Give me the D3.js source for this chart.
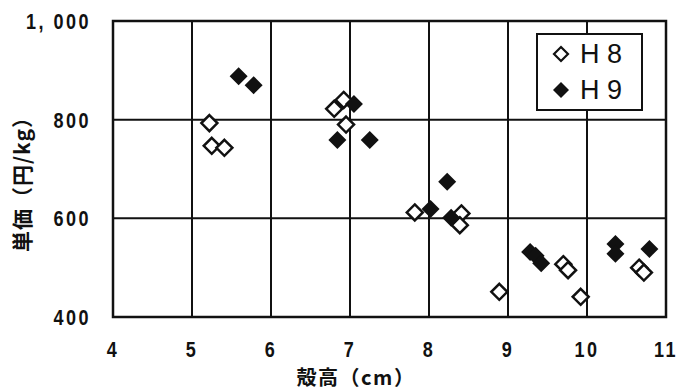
<!DOCTYPE html>
<html>
<head>
<meta charset="utf-8">
<script src="https://cdn.jsdelivr.net/npm/d3@7"></script>
<style>
  html, body { margin: 0; padding: 0; background: #fff; }
  svg { display: block; }
  .tick-label { font-family: "Liberation Sans", Arial, sans-serif; font-weight: bold; fill: #111; }
  .axis-title { font-family: "Noto Sans CJK JP", sans-serif; font-weight: bold; fill: #111; }
  .legend-text { font-family: "Liberation Sans", Arial, sans-serif; fill: #111; }
</style>
</head>
<body>
<svg id="chart" width="678" height="391"></svg>
<script>
// Shell height (cm) and unit price (yen/kg), by year
const h8Height = [5.22, 5.25, 5.41, 6.80, 6.92, 6.95, 7.82, 8.41, 8.39, 8.89, 9.70, 9.76, 9.92, 10.66, 10.72];
const h8Price  = [793, 747, 743, 822, 840, 790, 612, 610, 586, 451, 507, 495, 441, 500, 490];

const h9Height = [5.59, 5.78, 6.84, 7.05, 7.25, 8.02, 8.23, 8.28, 9.28, 9.35, 9.42, 10.36, 10.36, 10.79];
const h9Price  = [888, 870, 759, 832, 759, 619, 674, 601, 532, 524, 509, 548, 528, 538];

const xTicks = [4, 5, 6, 7, 8, 9, 10, 11];
const yTicks = [400, 600, 800, 1000];
const yTickLabels = ["400", "600", "800", "1, 000"];
const seriesNames = ["H 8", "H 9"];

const svg = d3.select("#chart");
const x = d3.scaleLinear().domain([4, 11]).range([113, 666]);
const y = d3.scaleLinear().domain([400, 1000]).range([317, 21]);

// grid lines
const grid = svg.append("g").attr("stroke", "#111").attr("stroke-width", 2);
grid.selectAll("line.v").data(xTicks).join("line")
  .attr("x1", d => x(d)).attr("x2", d => x(d))
  .attr("y1", y(1000)).attr("y2", y(400));
grid.selectAll("line.h").data(yTicks).join("line")
  .attr("x1", x(4)).attr("x2", x(11))
  .attr("y1", d => y(d)).attr("y2", d => y(d));

// plot frame
svg.append("rect")
  .attr("x", x(4)).attr("y", y(1000))
  .attr("width", x(11) - x(4)).attr("height", y(400) - y(1000))
  .attr("fill", "none").attr("stroke", "#111").attr("stroke-width", 2.5);

// tick labels (condensed horizontally)
svg.append("g").selectAll("text").data(xTicks).join("text")
  .attr("class", "tick-label")
  .attr("transform", d => `translate(${x(d)},357) scale(0.82,1)`)
  .attr("text-anchor", "middle")
  .attr("font-size", 22)
  .attr("letter-spacing", 3)
  .text(d => d);

svg.append("g").selectAll("text").data(yTicks).join("text")
  .attr("class", "tick-label")
  .attr("transform", d => `translate(91,${y(d) + 8}) scale(0.82,1)`)
  .attr("text-anchor", "end")
  .attr("font-size", 22)
  .attr("letter-spacing", 3)
  .text((d, i) => yTickLabels[i]);

// axis titles
svg.append("text").attr("class", "axis-title")
  .attr("x", 356).attr("y", 385)
  .attr("text-anchor", "middle").attr("font-size", 20)
  .attr("letter-spacing", 1.5)
  .text("殻高（cm）");

svg.append("text").attr("class", "axis-title")
  .attr("transform", "translate(30,179) rotate(-90)")
  .attr("text-anchor", "middle").attr("font-size", 21)
  .attr("letter-spacing", 1)
  .text("単価（円/kg）");

// diamond marker path centred on the origin
const diamond = r => `M0,${-r}L${r},0L0,${r}L${-r},0Z`;

const h8 = h8Height.map((v, i) => ({ x: v, y: h8Price[i] }));
const h9 = h9Height.map((v, i) => ({ x: v, y: h9Price[i] }));

svg.append("g").selectAll("path").data(h8).join("path")
  .attr("d", diamond(8))
  .attr("transform", d => `translate(${x(d.x)},${y(d.y)})`)
  .attr("fill", "#fff").attr("stroke", "#111").attr("stroke-width", 2.5);

svg.append("g").selectAll("path").data(h9).join("path")
  .attr("d", diamond(9))
  .attr("transform", d => `translate(${x(d.x)},${y(d.y)})`)
  .attr("fill", "#111");

// legend
const lg = svg.append("g");
lg.append("rect")
  .attr("x", 537).attr("y", 34).attr("width", 105).attr("height", 76)
  .attr("fill", "#fff").attr("stroke", "#111").attr("stroke-width", 2);
lg.append("path").attr("d", diamond(7))
  .attr("transform", "translate(561,54)")
  .attr("fill", "#fff").attr("stroke", "#111").attr("stroke-width", 2.2);
lg.append("path").attr("d", diamond(8))
  .attr("transform", "translate(561,90)")
  .attr("fill", "#111");
lg.selectAll("text").data(seriesNames).join("text")
  .attr("class", "legend-text")
  .attr("x", 580).attr("y", (d, i) => 63 + i * 36)
  .attr("font-size", 27)
  .text(d => d);
</script>
</body>
</html>
